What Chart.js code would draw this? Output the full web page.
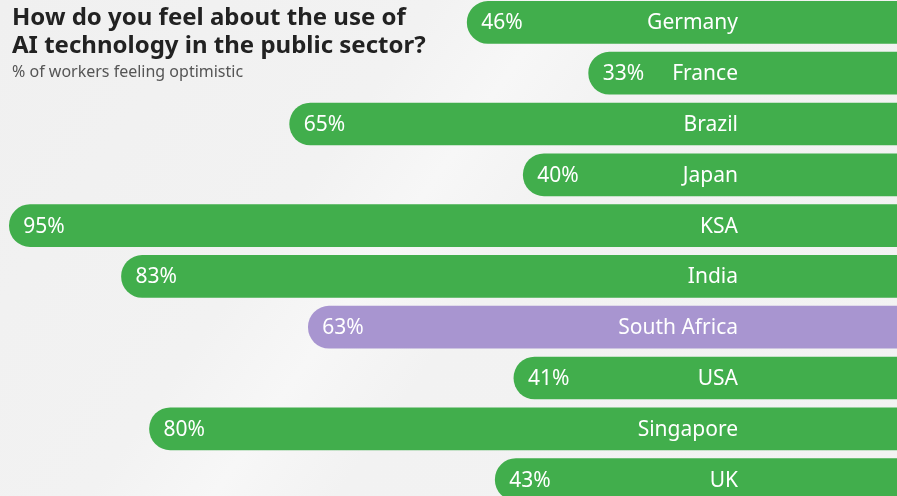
<!DOCTYPE html>
<html>
<head>
<meta charset="utf-8">
<script src="https://cdn.jsdelivr.net/npm/chart.js@4/dist/chart.umd.min.js"></script>
<style>
	html, body {margin: 0; padding: 0; overflow: hidden;}
	body {
		width: 897px; height: 496px; position: relative;
		font-family: 'Noto Sans', 'Open Sans', sans-serif;
		background: linear-gradient(125deg, #f0f0f0 0%, #f2f2f2 35%, #f7f7f7 45%, #f2f2f2 55%, #f3f3f3 100%);
	}
	.wrap {position: absolute; left: 0; top: -3px; width: 897px; height: 508px;}
	.head {position: absolute; left: 12px; top: 2px; z-index: 2;}
	.head h1 {margin: 0; font-size: 24px; line-height: 28px; font-weight: 700; color: #222;}
	.head p {margin: 2px 0 0; font-size: 16px; color: #555;}
</style>
</head>
<body>
<div class="head">
	<h1>How do you feel about the use of<br>AI technology in the public sector?</h1>
	<p>% of workers feeling optimistic</p>
</div>
<div class="wrap"><canvas id="chart"></canvas></div>
<script>
const countries = ['Germany', 'France', 'Brazil', 'Japan', 'KSA', 'India', 'South Africa', 'USA', 'Singapore', 'UK']
const optimistic = [46, 33, 65, 40, 95, 83, 63, 41, 80, 43]
const highlight = 'South Africa'

const green = '#41ae4c'
const purple = '#a895d0'

const labelPlugin = {
	id: 'barLabels',
	afterDatasetsDraw(chart) {
		const {ctx} = chart
		const meta = chart.getDatasetMeta(0)
		ctx.save()
		ctx.fillStyle = '#ffffff'
		ctx.font = '21px "Noto Sans", "Open Sans", sans-serif'
		ctx.textBaseline = 'middle'
		meta.data.forEach((bar, index) => {
			const y = bar.y + 1
			ctx.textAlign = 'left'
			ctx.fillText(optimistic[index] + '%', bar.x + 14, y)
			ctx.textAlign = 'right'
			ctx.fillText(countries[index], 738, y)
		})
		ctx.restore()
	},
}

new Chart(document.getElementById('chart'), {
	type: 'bar',
	data: {
		labels: countries,
		datasets: [{
			data: optimistic,
			backgroundColor: countries.map(c => c == highlight ? purple : green),
			borderWidth: 0,
			borderRadius: 21,
			borderSkipped: 'start',
			barThickness: 42,
		}],
	},
	options: {
		indexAxis: 'y',
		responsive: true,
		maintainAspectRatio: false,
		animation: false,
		layout: {padding: 0},
		scales: {
			x: {display: false, reverse: true, min: 0, max: 96},
			y: {display: false},
		},
		plugins: {
			legend: {display: false},
			tooltip: {enabled: false},
		},
	},
	plugins: [labelPlugin],
})
</script>
</body>
</html>
